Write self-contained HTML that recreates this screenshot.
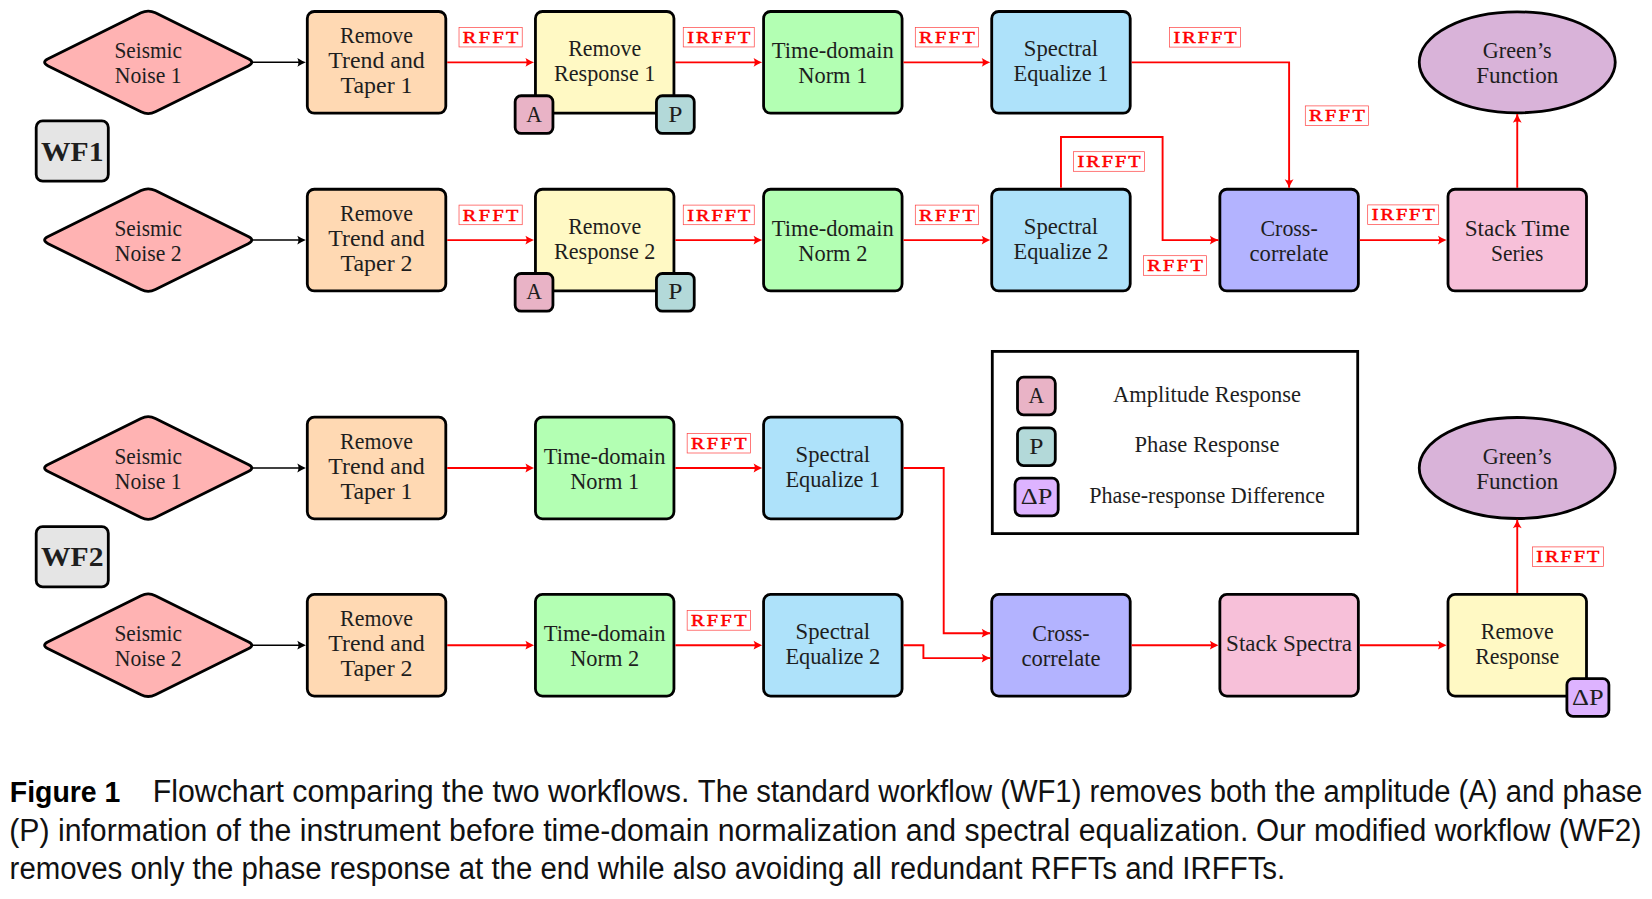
<!DOCTYPE html>
<html><head><meta charset="utf-8"><title>Figure 1</title>
<style>
html,body{margin:0;padding:0;background:#fff;}
body{width:1652px;height:899px;overflow:hidden;position:relative;}
svg{position:absolute;left:0;top:0;}
.k{stroke:#000;stroke-width:2.8;}
text{font-family:"Liberation Serif",serif;font-size:22.5px;fill:#1e1e1e;text-anchor:middle;lengthAdjust:spacingAndGlyphs;}
text.lb{font-weight:normal;font-size:17.4px;fill:#ff0000;stroke:#ff0000;stroke-width:0.5px;}
text.wf{font-weight:bold;font-size:27px;}
text.cr,text.cb{text-anchor:start;}
text.cr{font-family:"Liberation Sans",sans-serif;font-size:31px;fill:#111;}
text.cb{font-family:"Liberation Sans",sans-serif;font-size:30px;font-weight:bold;fill:#000;}
</style></head><body>
<svg width="1652" height="899" viewBox="0 0 1652 899">
<path d="M48.17,65.90 Q41.00,62.35 48.17,58.80 L141.03,12.84 Q148.20,9.29 155.37,12.84 L248.23,58.80 Q255.40,62.35 248.23,65.90 L155.37,111.86 Q148.20,115.41 141.03,111.86 Z" fill="#ffb3b3" class="k"/>
<text x="148.20" y="57.86" lengthAdjust="spacingAndGlyphs" textLength="67.5">Seismic</text><text x="148.20" y="82.91" lengthAdjust="spacingAndGlyphs" textLength="66.9">Noise 1</text>
<rect x="307.30" y="11.50" width="138.50" height="101.70" rx="7" fill="#ffd9b3" class="k"/>
<text x="376.55" y="43.31" lengthAdjust="spacingAndGlyphs" textLength="72.9">Remove</text><text x="376.55" y="68.36" lengthAdjust="spacingAndGlyphs" textLength="96.4">Trend and</text><text x="376.55" y="93.41" lengthAdjust="spacingAndGlyphs" textLength="72.0">Taper 1</text>
<rect x="535.44" y="11.50" width="138.50" height="101.70" rx="7" fill="#fff9c4" class="k"/>
<text x="604.69" y="55.84" lengthAdjust="spacingAndGlyphs" textLength="72.9">Remove</text><text x="604.69" y="80.89" lengthAdjust="spacingAndGlyphs" textLength="101.5">Response 1</text>
<rect x="763.58" y="11.50" width="138.50" height="101.70" rx="7" fill="#b3ffb3" class="k"/>
<text x="832.83" y="57.98" lengthAdjust="spacingAndGlyphs" textLength="121.9">Time-domain</text><text x="832.83" y="83.03" lengthAdjust="spacingAndGlyphs" textLength="69.1">Norm 1</text>
<rect x="991.72" y="11.50" width="138.50" height="101.70" rx="7" fill="#aee2fa" class="k"/>
<text x="1060.97" y="55.95" lengthAdjust="spacingAndGlyphs" textLength="74.4">Spectral</text><text x="1060.97" y="81.00" lengthAdjust="spacingAndGlyphs" textLength="94.9">Equalize 1</text>
<line x1="253.00" y1="62.35" x2="302.90" y2="62.35" stroke="#000" stroke-width="1.5"/><path d="M0,0 Q-4.2,-1.6 -8.6,-4.4 Q-6.2,0 -8.6,4.4 Q-4.2,1.6 0,0Z" transform="translate(305.90,62.35) rotate(0)" fill="#000"/>
<line x1="447.20" y1="62.35" x2="531.04" y2="62.35" stroke="#ff0000" stroke-width="1.9"/><path d="M0,0 Q-4.2,-1.6 -8.6,-4.4 Q-6.2,0 -8.6,4.4 Q-4.2,1.6 0,0Z" transform="translate(534.04,62.35) rotate(0)" fill="#ff0000"/>
<rect x="459.02" y="27.35" width="63.20" height="19.60" fill="#fff" stroke="#ff0000" stroke-width="0.7" stroke-opacity="0.75"/><text class="lb" transform="translate(490.62,42.80) scale(1.16,1)" x="0" y="0" lengthAdjust="spacing" textLength="48.0">RFFT</text>
<line x1="675.34" y1="62.35" x2="759.18" y2="62.35" stroke="#ff0000" stroke-width="1.9"/><path d="M0,0 Q-4.2,-1.6 -8.6,-4.4 Q-6.2,0 -8.6,4.4 Q-4.2,1.6 0,0Z" transform="translate(762.18,62.35) rotate(0)" fill="#ff0000"/>
<rect x="683.26" y="27.35" width="71.00" height="19.60" fill="#fff" stroke="#ff0000" stroke-width="0.7" stroke-opacity="0.75"/><text class="lb" transform="translate(718.76,42.80) scale(1.16,1)" x="0" y="0" lengthAdjust="spacing" textLength="54.4">IRFFT</text>
<line x1="903.48" y1="62.35" x2="987.32" y2="62.35" stroke="#ff0000" stroke-width="1.9"/><path d="M0,0 Q-4.2,-1.6 -8.6,-4.4 Q-6.2,0 -8.6,4.4 Q-4.2,1.6 0,0Z" transform="translate(990.32,62.35) rotate(0)" fill="#ff0000"/>
<rect x="915.30" y="27.35" width="63.20" height="19.60" fill="#fff" stroke="#ff0000" stroke-width="0.7" stroke-opacity="0.75"/><text class="lb" transform="translate(946.90,42.80) scale(1.16,1)" x="0" y="0" lengthAdjust="spacing" textLength="48.0">RFFT</text>
<rect x="515.14" y="95.75" width="37.80" height="37.70" rx="6" fill="#e9b3c6" class="k"/><text x="534.04" y="121.74" lengthAdjust="spacingAndGlyphs" textLength="15.7">A</text>
<rect x="656.44" y="95.75" width="37.80" height="37.70" rx="6" fill="#b3d9d9" class="k"/><text x="675.34" y="121.74" lengthAdjust="spacingAndGlyphs" textLength="14.2">P</text>
<path d="M48.17,243.65 Q41.00,240.10 48.17,236.55 L141.03,190.59 Q148.20,187.04 155.37,190.59 L248.23,236.55 Q255.40,240.10 248.23,243.65 L155.37,289.61 Q148.20,293.16 141.03,289.61 Z" fill="#ffb3b3" class="k"/>
<text x="148.20" y="235.61" lengthAdjust="spacingAndGlyphs" textLength="67.5">Seismic</text><text x="148.20" y="260.66" lengthAdjust="spacingAndGlyphs" textLength="66.9">Noise 2</text>
<rect x="307.30" y="189.25" width="138.50" height="101.70" rx="7" fill="#ffd9b3" class="k"/>
<text x="376.55" y="221.06" lengthAdjust="spacingAndGlyphs" textLength="72.9">Remove</text><text x="376.55" y="246.11" lengthAdjust="spacingAndGlyphs" textLength="96.4">Trend and</text><text x="376.55" y="271.16" lengthAdjust="spacingAndGlyphs" textLength="72.0">Taper 2</text>
<rect x="535.44" y="189.25" width="138.50" height="101.70" rx="7" fill="#fff9c4" class="k"/>
<text x="604.69" y="233.59" lengthAdjust="spacingAndGlyphs" textLength="72.9">Remove</text><text x="604.69" y="258.64" lengthAdjust="spacingAndGlyphs" textLength="101.5">Response 2</text>
<rect x="763.58" y="189.25" width="138.50" height="101.70" rx="7" fill="#b3ffb3" class="k"/>
<text x="832.83" y="235.73" lengthAdjust="spacingAndGlyphs" textLength="121.9">Time-domain</text><text x="832.83" y="260.78" lengthAdjust="spacingAndGlyphs" textLength="69.1">Norm 2</text>
<rect x="991.72" y="189.25" width="138.50" height="101.70" rx="7" fill="#aee2fa" class="k"/>
<text x="1060.97" y="233.70" lengthAdjust="spacingAndGlyphs" textLength="74.4">Spectral</text><text x="1060.97" y="258.75" lengthAdjust="spacingAndGlyphs" textLength="94.9">Equalize 2</text>
<line x1="253.00" y1="240.10" x2="302.90" y2="240.10" stroke="#000" stroke-width="1.5"/><path d="M0,0 Q-4.2,-1.6 -8.6,-4.4 Q-6.2,0 -8.6,4.4 Q-4.2,1.6 0,0Z" transform="translate(305.90,240.10) rotate(0)" fill="#000"/>
<line x1="447.20" y1="240.10" x2="531.04" y2="240.10" stroke="#ff0000" stroke-width="1.9"/><path d="M0,0 Q-4.2,-1.6 -8.6,-4.4 Q-6.2,0 -8.6,4.4 Q-4.2,1.6 0,0Z" transform="translate(534.04,240.10) rotate(0)" fill="#ff0000"/>
<rect x="459.02" y="205.10" width="63.20" height="19.60" fill="#fff" stroke="#ff0000" stroke-width="0.7" stroke-opacity="0.75"/><text class="lb" transform="translate(490.62,220.55) scale(1.16,1)" x="0" y="0" lengthAdjust="spacing" textLength="48.0">RFFT</text>
<line x1="675.34" y1="240.10" x2="759.18" y2="240.10" stroke="#ff0000" stroke-width="1.9"/><path d="M0,0 Q-4.2,-1.6 -8.6,-4.4 Q-6.2,0 -8.6,4.4 Q-4.2,1.6 0,0Z" transform="translate(762.18,240.10) rotate(0)" fill="#ff0000"/>
<rect x="683.26" y="205.10" width="71.00" height="19.60" fill="#fff" stroke="#ff0000" stroke-width="0.7" stroke-opacity="0.75"/><text class="lb" transform="translate(718.76,220.55) scale(1.16,1)" x="0" y="0" lengthAdjust="spacing" textLength="54.4">IRFFT</text>
<line x1="903.48" y1="240.10" x2="987.32" y2="240.10" stroke="#ff0000" stroke-width="1.9"/><path d="M0,0 Q-4.2,-1.6 -8.6,-4.4 Q-6.2,0 -8.6,4.4 Q-4.2,1.6 0,0Z" transform="translate(990.32,240.10) rotate(0)" fill="#ff0000"/>
<rect x="915.30" y="205.10" width="63.20" height="19.60" fill="#fff" stroke="#ff0000" stroke-width="0.7" stroke-opacity="0.75"/><text class="lb" transform="translate(946.90,220.55) scale(1.16,1)" x="0" y="0" lengthAdjust="spacing" textLength="48.0">RFFT</text>
<rect x="515.14" y="273.50" width="37.80" height="37.70" rx="6" fill="#e9b3c6" class="k"/><text x="534.04" y="299.49" lengthAdjust="spacingAndGlyphs" textLength="15.7">A</text>
<rect x="656.44" y="273.50" width="37.80" height="37.70" rx="6" fill="#b3d9d9" class="k"/><text x="675.34" y="299.49" lengthAdjust="spacingAndGlyphs" textLength="14.2">P</text>
<rect x="1219.86" y="189.25" width="138.50" height="101.70" rx="7" fill="#b3b3ff" class="k"/>
<text x="1289.11" y="235.61" lengthAdjust="spacingAndGlyphs" textLength="57.2">Cross-</text><text x="1289.11" y="260.66" lengthAdjust="spacingAndGlyphs" textLength="79.1">correlate</text>
<rect x="1448.00" y="189.25" width="138.50" height="101.70" rx="7" fill="#f7c0d9" class="k"/>
<text x="1517.25" y="235.73" lengthAdjust="spacingAndGlyphs" textLength="105.1">Stack Time</text><text x="1517.25" y="260.78" lengthAdjust="spacingAndGlyphs" textLength="52.4">Series</text>
<ellipse cx="1517.2499999999998" cy="62.35" rx="98" ry="50.5" fill="#d9b3d9" class="k"/>
<text x="1517.25" y="57.98" lengthAdjust="spacingAndGlyphs" textLength="68.8">Green’s</text><text x="1517.25" y="83.03" lengthAdjust="spacingAndGlyphs" textLength="82.2">Function</text>
<polyline points="1131.62,62.35 1289.11,62.35 1289.11,187.85" fill="none" stroke="#ff0000" stroke-width="1.9" stroke-linejoin="miter"/><path d="M0,0 Q-4.2,-1.6 -8.6,-4.4 Q-6.2,0 -8.6,4.4 Q-4.2,1.6 0,0Z" transform="translate(1289.11,187.85) rotate(90)" fill="#ff0000"/>
<rect x="1305.30" y="105.90" width="63.20" height="19.60" fill="#fff" stroke="#ff0000" stroke-width="0.7" stroke-opacity="0.75"/><text class="lb" transform="translate(1336.90,121.35) scale(1.16,1)" x="0" y="0" lengthAdjust="spacing" textLength="48.0">RFFT</text>
<rect x="1169.50" y="27.50" width="71.00" height="19.60" fill="#fff" stroke="#ff0000" stroke-width="0.7" stroke-opacity="0.75"/><text class="lb" transform="translate(1205.00,42.95) scale(1.16,1)" x="0" y="0" lengthAdjust="spacing" textLength="54.4">IRFFT</text>
<polyline points="1060.97,187.85 1060.97,137.00 1162.60,137.00 1162.60,240.10 1218.46,240.10" fill="none" stroke="#ff0000" stroke-width="1.9" stroke-linejoin="miter"/><path d="M0,0 Q-4.2,-1.6 -8.6,-4.4 Q-6.2,0 -8.6,4.4 Q-4.2,1.6 0,0Z" transform="translate(1218.46,240.10) rotate(0)" fill="#ff0000"/>
<rect x="1073.50" y="151.70" width="71.00" height="19.60" fill="#fff" stroke="#ff0000" stroke-width="0.7" stroke-opacity="0.75"/><text class="lb" transform="translate(1109.00,167.15) scale(1.16,1)" x="0" y="0" lengthAdjust="spacing" textLength="54.4">IRFFT</text>
<rect x="1143.40" y="255.70" width="63.20" height="19.60" fill="#fff" stroke="#ff0000" stroke-width="0.7" stroke-opacity="0.75"/><text class="lb" transform="translate(1175.00,271.15) scale(1.16,1)" x="0" y="0" lengthAdjust="spacing" textLength="48.0">RFFT</text>
<line x1="1359.76" y1="240.10" x2="1443.60" y2="240.10" stroke="#ff0000" stroke-width="1.9"/><path d="M0,0 Q-4.2,-1.6 -8.6,-4.4 Q-6.2,0 -8.6,4.4 Q-4.2,1.6 0,0Z" transform="translate(1446.60,240.10) rotate(0)" fill="#ff0000"/>
<rect x="1367.68" y="204.90" width="71.00" height="19.60" fill="#fff" stroke="#ff0000" stroke-width="0.7" stroke-opacity="0.75"/><text class="lb" transform="translate(1403.18,220.35) scale(1.16,1)" x="0" y="0" lengthAdjust="spacing" textLength="54.4">IRFFT</text>
<polyline points="1517.25,187.85 1517.25,114.05" fill="none" stroke="#ff0000" stroke-width="1.9" stroke-linejoin="miter"/><path d="M0,0 Q-4.2,-1.6 -8.6,-4.4 Q-6.2,0 -8.6,4.4 Q-4.2,1.6 0,0Z" transform="translate(1517.25,114.05) rotate(-90)" fill="#ff0000"/>
<rect x="36.199999999999996" y="120.9" width="72.10000000000001" height="60.2" rx="6.5" fill="#e5e5e5" class="k"/>
<text class="wf" x="72.2" y="160.6" lengthAdjust="spacingAndGlyphs" textLength="62.5">WF1</text>
<rect x="36.199999999999996" y="526.6999999999999" width="72.10000000000001" height="60.2" rx="6.5" fill="#e5e5e5" class="k"/>
<text class="wf" x="72.2" y="566.2" lengthAdjust="spacingAndGlyphs" textLength="62.5">WF2</text>
<path d="M48.17,471.55 Q41.00,468.00 48.17,464.45 L141.03,418.49 Q148.20,414.94 155.37,418.49 L248.23,464.45 Q255.40,468.00 248.23,471.55 L155.37,517.51 Q148.20,521.06 141.03,517.51 Z" fill="#ffb3b3" class="k"/>
<text x="148.20" y="463.51" lengthAdjust="spacingAndGlyphs" textLength="67.5">Seismic</text><text x="148.20" y="488.56" lengthAdjust="spacingAndGlyphs" textLength="66.9">Noise 1</text>
<rect x="307.30" y="417.15" width="138.50" height="101.70" rx="7" fill="#ffd9b3" class="k"/>
<text x="376.55" y="448.96" lengthAdjust="spacingAndGlyphs" textLength="72.9">Remove</text><text x="376.55" y="474.01" lengthAdjust="spacingAndGlyphs" textLength="96.4">Trend and</text><text x="376.55" y="499.06" lengthAdjust="spacingAndGlyphs" textLength="72.0">Taper 1</text>
<rect x="535.44" y="417.15" width="138.50" height="101.70" rx="7" fill="#b3ffb3" class="k"/>
<text x="604.69" y="463.63" lengthAdjust="spacingAndGlyphs" textLength="121.9">Time-domain</text><text x="604.69" y="488.68" lengthAdjust="spacingAndGlyphs" textLength="69.1">Norm 1</text>
<rect x="763.58" y="417.15" width="138.50" height="101.70" rx="7" fill="#aee2fa" class="k"/>
<text x="832.83" y="461.60" lengthAdjust="spacingAndGlyphs" textLength="74.4">Spectral</text><text x="832.83" y="486.65" lengthAdjust="spacingAndGlyphs" textLength="94.9">Equalize 1</text>
<line x1="253.00" y1="468.00" x2="302.90" y2="468.00" stroke="#000" stroke-width="1.5"/><path d="M0,0 Q-4.2,-1.6 -8.6,-4.4 Q-6.2,0 -8.6,4.4 Q-4.2,1.6 0,0Z" transform="translate(305.90,468.00) rotate(0)" fill="#000"/>
<line x1="447.20" y1="468.00" x2="531.04" y2="468.00" stroke="#ff0000" stroke-width="1.9"/><path d="M0,0 Q-4.2,-1.6 -8.6,-4.4 Q-6.2,0 -8.6,4.4 Q-4.2,1.6 0,0Z" transform="translate(534.04,468.00) rotate(0)" fill="#ff0000"/>
<line x1="675.34" y1="468.00" x2="759.18" y2="468.00" stroke="#ff0000" stroke-width="1.9"/><path d="M0,0 Q-4.2,-1.6 -8.6,-4.4 Q-6.2,0 -8.6,4.4 Q-4.2,1.6 0,0Z" transform="translate(762.18,468.00) rotate(0)" fill="#ff0000"/>
<rect x="687.16" y="433.40" width="63.20" height="19.60" fill="#fff" stroke="#ff0000" stroke-width="0.7" stroke-opacity="0.75"/><text class="lb" transform="translate(718.76,448.85) scale(1.16,1)" x="0" y="0" lengthAdjust="spacing" textLength="48.0">RFFT</text>
<path d="M48.17,648.75 Q41.00,645.20 48.17,641.65 L141.03,595.69 Q148.20,592.14 155.37,595.69 L248.23,641.65 Q255.40,645.20 248.23,648.75 L155.37,694.71 Q148.20,698.26 141.03,694.71 Z" fill="#ffb3b3" class="k"/>
<text x="148.20" y="640.71" lengthAdjust="spacingAndGlyphs" textLength="67.5">Seismic</text><text x="148.20" y="665.76" lengthAdjust="spacingAndGlyphs" textLength="66.9">Noise 2</text>
<rect x="307.30" y="594.35" width="138.50" height="101.70" rx="7" fill="#ffd9b3" class="k"/>
<text x="376.55" y="626.16" lengthAdjust="spacingAndGlyphs" textLength="72.9">Remove</text><text x="376.55" y="651.21" lengthAdjust="spacingAndGlyphs" textLength="96.4">Trend and</text><text x="376.55" y="676.26" lengthAdjust="spacingAndGlyphs" textLength="72.0">Taper 2</text>
<rect x="535.44" y="594.35" width="138.50" height="101.70" rx="7" fill="#b3ffb3" class="k"/>
<text x="604.69" y="640.83" lengthAdjust="spacingAndGlyphs" textLength="121.9">Time-domain</text><text x="604.69" y="665.88" lengthAdjust="spacingAndGlyphs" textLength="69.1">Norm 2</text>
<rect x="763.58" y="594.35" width="138.50" height="101.70" rx="7" fill="#aee2fa" class="k"/>
<text x="832.83" y="638.80" lengthAdjust="spacingAndGlyphs" textLength="74.4">Spectral</text><text x="832.83" y="663.85" lengthAdjust="spacingAndGlyphs" textLength="94.9">Equalize 2</text>
<line x1="253.00" y1="645.20" x2="302.90" y2="645.20" stroke="#000" stroke-width="1.5"/><path d="M0,0 Q-4.2,-1.6 -8.6,-4.4 Q-6.2,0 -8.6,4.4 Q-4.2,1.6 0,0Z" transform="translate(305.90,645.20) rotate(0)" fill="#000"/>
<line x1="447.20" y1="645.20" x2="531.04" y2="645.20" stroke="#ff0000" stroke-width="1.9"/><path d="M0,0 Q-4.2,-1.6 -8.6,-4.4 Q-6.2,0 -8.6,4.4 Q-4.2,1.6 0,0Z" transform="translate(534.04,645.20) rotate(0)" fill="#ff0000"/>
<line x1="675.34" y1="645.20" x2="759.18" y2="645.20" stroke="#ff0000" stroke-width="1.9"/><path d="M0,0 Q-4.2,-1.6 -8.6,-4.4 Q-6.2,0 -8.6,4.4 Q-4.2,1.6 0,0Z" transform="translate(762.18,645.20) rotate(0)" fill="#ff0000"/>
<rect x="687.16" y="610.60" width="63.20" height="19.60" fill="#fff" stroke="#ff0000" stroke-width="0.7" stroke-opacity="0.75"/><text class="lb" transform="translate(718.76,626.05) scale(1.16,1)" x="0" y="0" lengthAdjust="spacing" textLength="48.0">RFFT</text>
<rect x="991.72" y="594.35" width="138.50" height="101.70" rx="7" fill="#b3b3ff" class="k"/>
<text x="1060.97" y="640.71" lengthAdjust="spacingAndGlyphs" textLength="57.2">Cross-</text><text x="1060.97" y="665.76" lengthAdjust="spacingAndGlyphs" textLength="79.1">correlate</text>
<rect x="1219.86" y="594.35" width="138.50" height="101.70" rx="7" fill="#f7c0d9" class="k"/>
<text x="1289.11" y="651.33" lengthAdjust="spacingAndGlyphs" textLength="126.0">Stack Spectra</text>
<rect x="1448.00" y="594.35" width="138.50" height="101.70" rx="7" fill="#fff9c4" class="k"/>
<text x="1517.25" y="638.69" lengthAdjust="spacingAndGlyphs" textLength="72.9">Remove</text><text x="1517.25" y="663.74" lengthAdjust="spacingAndGlyphs" textLength="84.1">Response</text>
<ellipse cx="1517.2499999999998" cy="468.0" rx="98" ry="50.5" fill="#d9b3d9" class="k"/>
<text x="1517.25" y="463.63" lengthAdjust="spacingAndGlyphs" textLength="68.8">Green’s</text><text x="1517.25" y="488.68" lengthAdjust="spacingAndGlyphs" textLength="82.2">Function</text>
<polyline points="903.48,468.00 943.70,468.00 943.70,633.20 990.32,633.20" fill="none" stroke="#ff0000" stroke-width="1.9" stroke-linejoin="miter"/><path d="M0,0 Q-4.2,-1.6 -8.6,-4.4 Q-6.2,0 -8.6,4.4 Q-4.2,1.6 0,0Z" transform="translate(990.32,633.20) rotate(0)" fill="#ff0000"/>
<polyline points="903.48,645.20 923.40,645.20 923.40,658.10 990.32,658.10" fill="none" stroke="#ff0000" stroke-width="1.9" stroke-linejoin="miter"/><path d="M0,0 Q-4.2,-1.6 -8.6,-4.4 Q-6.2,0 -8.6,4.4 Q-4.2,1.6 0,0Z" transform="translate(990.32,658.10) rotate(0)" fill="#ff0000"/>
<line x1="1131.62" y1="645.20" x2="1215.46" y2="645.20" stroke="#ff0000" stroke-width="1.9"/><path d="M0,0 Q-4.2,-1.6 -8.6,-4.4 Q-6.2,0 -8.6,4.4 Q-4.2,1.6 0,0Z" transform="translate(1218.46,645.20) rotate(0)" fill="#ff0000"/>
<line x1="1359.76" y1="645.20" x2="1443.60" y2="645.20" stroke="#ff0000" stroke-width="1.9"/><path d="M0,0 Q-4.2,-1.6 -8.6,-4.4 Q-6.2,0 -8.6,4.4 Q-4.2,1.6 0,0Z" transform="translate(1446.60,645.20) rotate(0)" fill="#ff0000"/>
<polyline points="1517.25,592.95 1517.25,519.70" fill="none" stroke="#ff0000" stroke-width="1.9" stroke-linejoin="miter"/><path d="M0,0 Q-4.2,-1.6 -8.6,-4.4 Q-6.2,0 -8.6,4.4 Q-4.2,1.6 0,0Z" transform="translate(1517.25,519.70) rotate(-90)" fill="#ff0000"/>
<rect x="1532.40" y="546.90" width="71.00" height="19.60" fill="#fff" stroke="#ff0000" stroke-width="0.7" stroke-opacity="0.75"/><text class="lb" transform="translate(1567.90,562.35) scale(1.16,1)" x="0" y="0" lengthAdjust="spacing" textLength="54.4">IRFFT</text>
<rect x="1566.90" y="678.65" width="42.00" height="37.70" rx="6" fill="#ddb3ff" class="k"/><text x="1587.90" y="704.64" lengthAdjust="spacingAndGlyphs" textLength="31.6">ΔP</text>
<rect x="992.3" y="351.4" width="365.4" height="182.2" fill="#fff" class="k"/>
<rect x="1017.50" y="377.15" width="37.80" height="37.70" rx="6" fill="#e9b3c6" class="k"/><text x="1036.40" y="403.14" lengthAdjust="spacingAndGlyphs" textLength="15.7">A</text>
<rect x="1017.50" y="427.85" width="37.80" height="37.70" rx="6" fill="#b3d9d9" class="k"/><text x="1036.40" y="453.84" lengthAdjust="spacingAndGlyphs" textLength="14.2">P</text>
<rect x="1015.00" y="478.15" width="43.20" height="37.70" rx="6" fill="#ddb3ff" class="k"/><text x="1036.60" y="504.14" lengthAdjust="spacingAndGlyphs" textLength="31.6">ΔP</text>
<text x="1207" y="401.9" lengthAdjust="spacingAndGlyphs" textLength="188.0">Amplitude Response</text>
<text x="1207" y="452.1" lengthAdjust="spacingAndGlyphs" textLength="144.9">Phase Response</text>
<text x="1207" y="502.9" lengthAdjust="spacingAndGlyphs" textLength="235.6">Phase-response Difference</text>

<text class="cb" x="9.8" y="802.3" lengthAdjust="spacingAndGlyphs" textLength="110.5">Figure 1</text>
<text class="cr" x="152.8" y="802.3" lengthAdjust="spacingAndGlyphs" textLength="536.5">Flowchart comparing the two workflows.</text>
<text class="cr" x="697.8" y="802.3" lengthAdjust="spacingAndGlyphs" textLength="944.5">The standard workflow (WF1) removes both the amplitude (A) and phase</text>
<text class="cr" x="9.3" y="840.6" lengthAdjust="spacingAndGlyphs" textLength="1239">(P) information of the instrument before time-domain normalization and spectral equalization.</text>
<text class="cr" x="1256" y="840.6" lengthAdjust="spacingAndGlyphs" textLength="385.3">Our modified workflow (WF2)</text>
<text class="cr" x="9.6" y="879.0" lengthAdjust="spacingAndGlyphs" textLength="1275.6">removes only the phase response at the end while also avoiding all redundant RFFTs and IRFFTs.</text>

</svg>
</body></html>
